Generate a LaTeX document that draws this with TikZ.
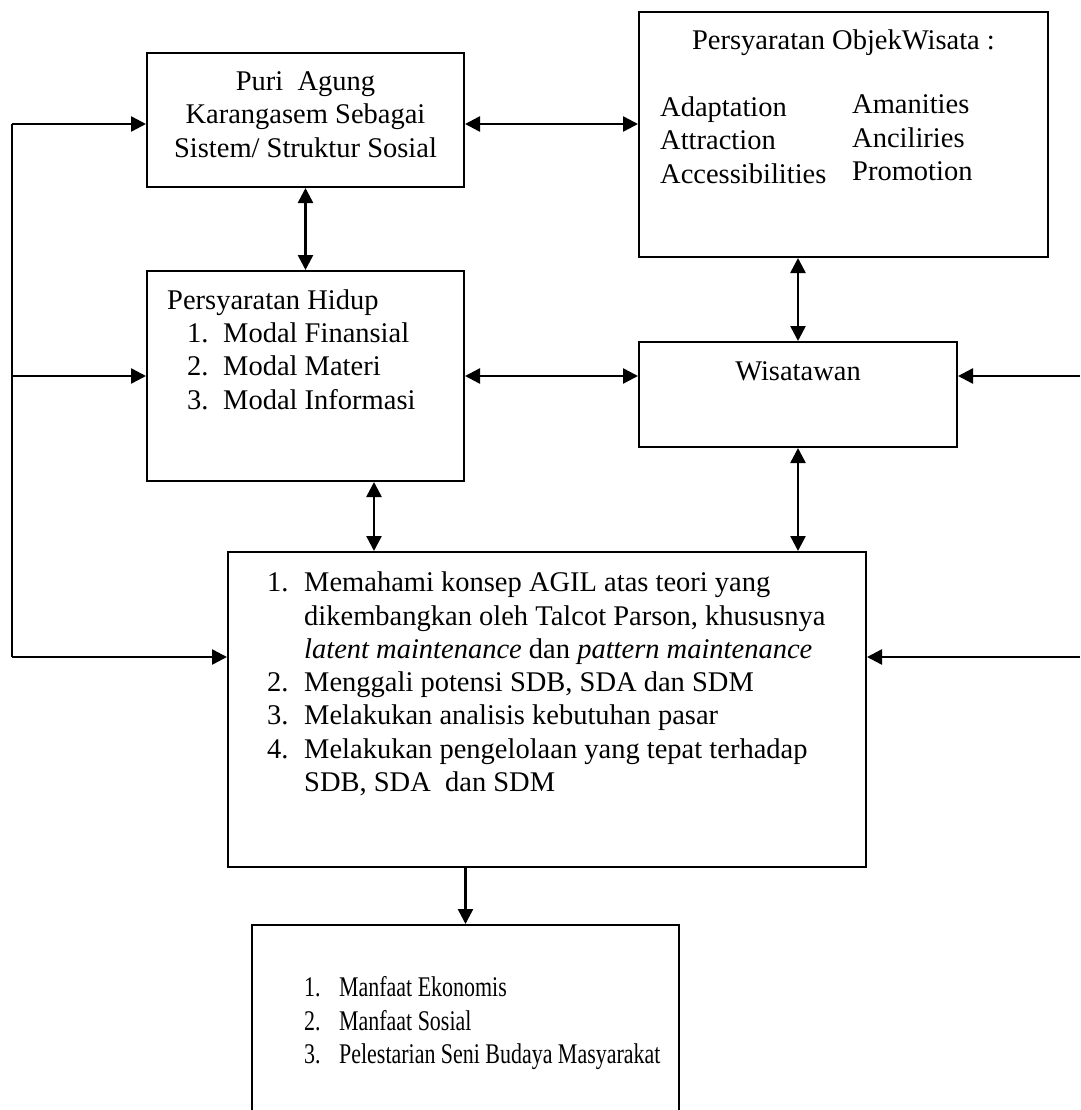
\documentclass[tikz,border=0pt]{standalone}
\usepackage{fontspec}
\setmainfont{Liberation Serif}
\newfontfamily\condfont[FakeStretch=0.77]{Liberation Serif}
\usetikzlibrary{arrows.meta}
\begin{document}
\begin{tikzpicture}[x=1pt,y=-1pt,
  box/.style={draw, line width=2pt, rectangle, inner sep=0pt},
  txt/.style={anchor=base west, inner sep=0pt, font=\fontsize{28.5}{33.3}\selectfont},
  ctxt/.style={anchor=base, inner sep=0pt, font=\fontsize{28.5}{33.3}\selectfont},
  arr/.style={line width=2.5pt, -{Triangle[length=15pt,width=15pt]}},
  darr/.style={line width=2.5pt, {Triangle[length=15pt,width=15pt]}-{Triangle[length=15pt,width=15pt]}},
  plainline/.style={line width=2.5pt, line join=miter}
]
\useasboundingbox (0,0) rectangle (1080,1110);
\clip (0,0) rectangle (1080,1110);

% boxes
\node[box, minimum width=317pt, minimum height=134pt] (puri) at (305.5,120) {};
\node[box, minimum width=317pt, minimum height=210pt] (hidup) at (305.5,376) {};
\node[box, minimum width=409pt, minimum height=245pt] (objek) at (843.5,134.5) {};
\node[box, minimum width=318pt, minimum height=105pt] (wis) at (798,394.5) {};
\node[box, minimum width=638pt, minimum height=315pt] (big) at (547,709.5) {};
\node[box, minimum width=427pt, minimum height=215pt] (bot) at (465.5,1032.5) {};

% texts
\node[ctxt] (puritext) at (305.5,90.7) {\begin{tabular}[t]{@{}c@{}}Puri\ \ Agung\\Karangasem Sebagai\\Sistem/ Struktur Sosial\end{tabular}};

\node[txt] (hiduptext) at (167,309.3) {\begin{tabular}[t]{@{}l@{}}Persyaratan Hidup\\
\hspace*{20pt}\makebox[36pt][l]{1.}Modal Finansial\\
\hspace*{20pt}\makebox[36pt][l]{2.}Modal Materi\\
\hspace*{20pt}\makebox[36pt][l]{3.}Modal Informasi\end{tabular}};

\node[ctxt] (objtitle) at (843.5,49.3) {Persyaratan ObjekWisata :};
\node[txt] (objleft) at (660,116.7) {\begin{tabular}[t]{@{}l@{}}Adaptation\\Attraction\\Accessibilities\end{tabular}};
\node[txt] (objright) at (852,114) {\begin{tabular}[t]{@{}l@{}}Amanities\\Anciliries\\Promotion\end{tabular}};

\node[ctxt] (wistext) at (798,380) {Wisatawan};

\node[txt] (bigtext) at (267,591.7) {\begin{tabular}[t]{@{}l@{}}
\makebox[37pt][l]{1.}Memahami konsep AGIL atas teori yang\\
\hspace*{37pt}dikembangkan oleh Talcot Parson, khususnya\\
\hspace*{37pt}\textit{latent maintenance} dan \textit{pattern maintenance}\\
\makebox[37pt][l]{2.}Menggali potensi SDB, SDA dan SDM\\
\makebox[37pt][l]{3.}Melakukan analisis kebutuhan pasar\\
\makebox[37pt][l]{4.}Melakukan pengelolaan yang tepat terhadap\\
\hspace*{37pt}SDB, SDA\ \ dan SDM\end{tabular}};

\node[txt] (bottext) at (304,996.7) {\condfont\begin{tabular}[t]{@{}l@{}}
\makebox[35pt][l]{1.}Manfaat Ekonomis\\
\makebox[35pt][l]{2.}Manfaat Sosial\\
\makebox[35pt][l]{3.}Pelestarian Seni Budaya Masyarakat\end{tabular}};

% helper coordinates
\coordinate (lt) at (12,124);
\coordinate (lm) at (12,376);
\coordinate (lb) at (12,657);
\coordinate (rt) at (1080,376);
\coordinate (rb) at (1080,657);
\coordinate (m1) at (550,124);
\coordinate (m2) at (374,500);

% connectors
\draw[plainline] (lt) -- (lb);
\draw[arr] (lt) -- (lt -| puri.west);
\draw[arr] (lm) -- (lm -| hidup.west);
\draw[arr] (lb) -- (lb -| big.west);
\draw[arr] (rt) -- (rt -| wis.east);
\draw[arr] (rb) -- (rb -| big.east);
\draw[darr] (m1 -| puri.east) -- (m1 -| objek.west);
\draw[darr] (puri.south) -- (hidup.north);
\draw[darr] (wis.north |- objek.south) -- (wis.north);
\draw[darr] (hidup.east) -- (hidup.east -| wis.west);
\draw[darr] (m2 |- hidup.south) -- (m2 |- big.north);
\draw[darr] (wis.south) -- (wis.south |- big.north);
\draw[arr] (bot.north |- big.south) -- (bot.north);
\end{tikzpicture}
\end{document}
